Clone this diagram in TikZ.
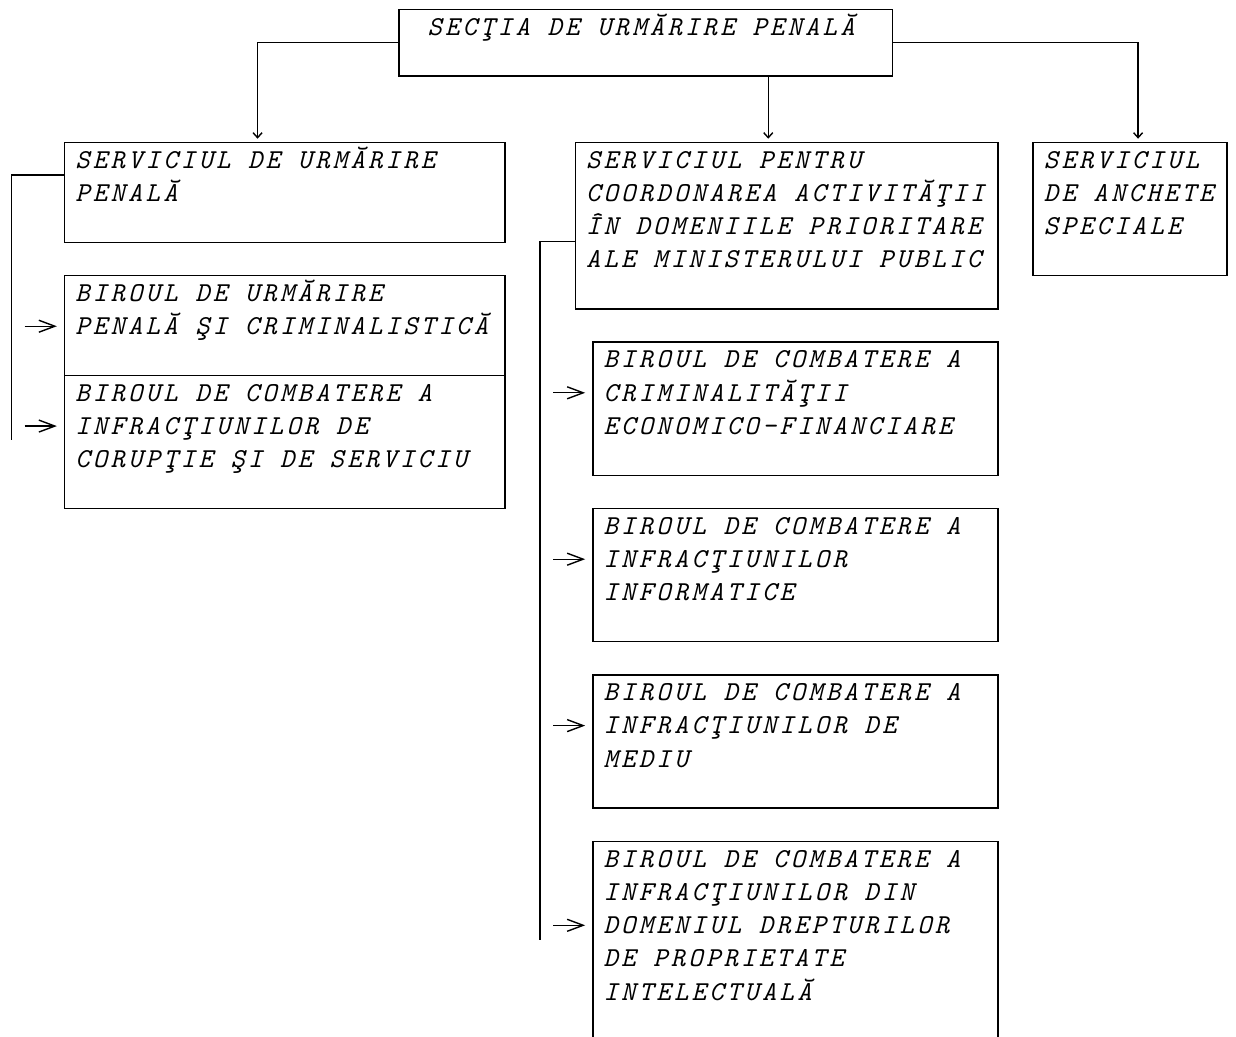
\documentclass[tikz,border=0pt]{standalone}
\usepackage{fontspec}
\newfontfamily\boxfont{lmmono10-italic.otf}[LetterSpace=11.9]
\usetikzlibrary{arrows.meta,calc,fit}

\newcommand\lines[1]{\vtop{\baselineskip=16.64pt\lineskiplimit=-\maxdimen\halign{##\hfil\cr#1\crcr}}}

\tikzset{
  deptbox/.style={draw, line width=0.7pt, inner sep=0pt},
  depttext/.style={font=\boxfont\fontsize{13.67pt}{16.64pt}\selectfont, anchor=base west, inner sep=0pt, xshift=0.8pt},
  link/.style={line width=0.7pt},
  drop/.style={link, -{Straight Barb[length=2.5pt,width=4.5pt]}, shorten >=1.5pt},
  feed/.style={link, -{Straight Barb[length=8pt,width=6pt]}, shorten <=6.5pt, shorten >=3.5pt},
}

\begin{document}
\begin{tikzpicture}[x=8.805pt,y=-16.64pt]
  \useasboundingbox (-0.1647,0) rectangle (70.022,31.13);
  \clip (-0.1647,0) rectangle (70.022,31.13);

  %section
  \node[deptbox, fit={(22.5,0.2794) (50.5,2.2794)}] (sup) {};
  \node[depttext] (supt) at (24,1.0517) {SECŢIA DE URMĂRIRE PENALĂ};

  %services
  \node[deptbox, fit={(3.5,4.2794) (28.5,7.2794)}] (urm) {};
  \node[depttext] (urmt) at (4,5.0517) {\lines{SERVICIUL DE URMĂRIRE\cr PENALĂ}};
  \node[deptbox, fit={(32.5,4.2794) (56.5,9.2794)}] (coord) {};
  \node[depttext] (coordt) at (33,5.0517) {\lines{SERVICIUL PENTRU\cr COORDONAREA ACTIVITĂŢII\cr ÎN DOMENIILE PRIORITARE\cr ALE MINISTERULUI PUBLIC}};
  \node[deptbox, fit={(58.5,4.2794) (69.5,8.2794)}] (anch) {};
  \node[depttext] (ancht) at (59,5.0517) {\lines{SERVICIUL\cr DE ANCHETE\cr SPECIALE}};

  %offices, left
  \node[deptbox, fit={(3.5,8.2794) (28.5,11.2794)}] (bupc) {};
  \node[depttext] (bupct) at (4,9.0517) {\lines{BIROUL DE URMĂRIRE\cr PENALĂ ŞI CRIMINALISTICĂ}};
  \node[deptbox, fit={(3.5,11.2794) (28.5,15.2794)}] (bcic) {};
  \node[depttext] (bcict) at (4,12.0517) {\lines{BIROUL DE COMBATERE A\cr INFRACŢIUNILOR DE\cr CORUPŢIE ŞI DE SERVICIU}};

  %offices, middle
  \node[deptbox, fit={(33.5,10.2794) (56.5,14.2794)}] (bcef) {};
  \node[depttext] (bceft) at (34,11.0517) {\lines{BIROUL DE COMBATERE A\cr CRIMINALITĂŢII\cr ECONOMICO-FINANCIARE}};
  \node[deptbox, fit={(33.5,15.2794) (56.5,19.2794)}] (bci) {};
  \node[depttext] (bcit) at (34,16.0517) {\lines{BIROUL DE COMBATERE A\cr INFRACŢIUNILOR\cr INFORMATICE}};
  \node[deptbox, fit={(33.5,20.2794) (56.5,24.2794)}] (bcm) {};
  \node[depttext] (bcmt) at (34,21.0517) {\lines{BIROUL DE COMBATERE A\cr INFRACŢIUNILOR DE\cr MEDIU}};
  \node[deptbox, fit={(33.5,25.2794) (56.5,31.2794)}] (bcdp) {};
  \node[depttext] (bcdpt) at (34,26.0517) {\lines{BIROUL DE COMBATERE A\cr INFRACŢIUNILOR DIN\cr DOMENIUL DREPTURILOR\cr DE PROPRIETATE\cr INTELECTUALĂ}};

  %arrows from the section
  \draw[drop] (sup.west) -| ($(urm.north west)+(11,0)$);
  \draw[drop] ($(sup.south west)+(21,0)$) -- ($(coord.north west)+(11,0)$);
  \draw[drop] (sup.east) -| ($(anch.north west)+(6,0)$);

  %left line to offices
  \coordinate (lfoot) at (0.5,13.23);
  \draw[link] ($(urm.north west)+(0,1)$) -| (lfoot);
  \coordinate (bupcin) at ($(bupc.north west)+(0,1.544)$);
  \coordinate (bcicin) at ($(bcic.north west)+(0,1.544)$);
  \draw[feed] (bupcin -| lfoot) -- (bupcin);
  \draw[feed] (bcicin -| lfoot) -- (bcicin);

  %middle line to offices
  \coordinate (mfoot) at (30.5,28.23);
  \draw[link] ($(coord.north west)+(0,3)$) -| (mfoot);
  \coordinate (bcefin) at ($(bcef.north west)+(0,1.544)$);
  \coordinate (bciin) at ($(bci.north west)+(0,1.544)$);
  \coordinate (bcmin) at ($(bcm.north west)+(0,1.544)$);
  \coordinate (bcdpin) at ($(bcdp.north west)+(0,2.544)$);
  \draw[feed] (bcefin -| mfoot) -- (bcefin);
  \draw[feed] (bciin -| mfoot) -- (bciin);
  \draw[feed] (bcmin -| mfoot) -- (bcmin);
  \draw[feed] (bcdpin -| mfoot) -- (bcdpin);
\end{tikzpicture}
\end{document}
